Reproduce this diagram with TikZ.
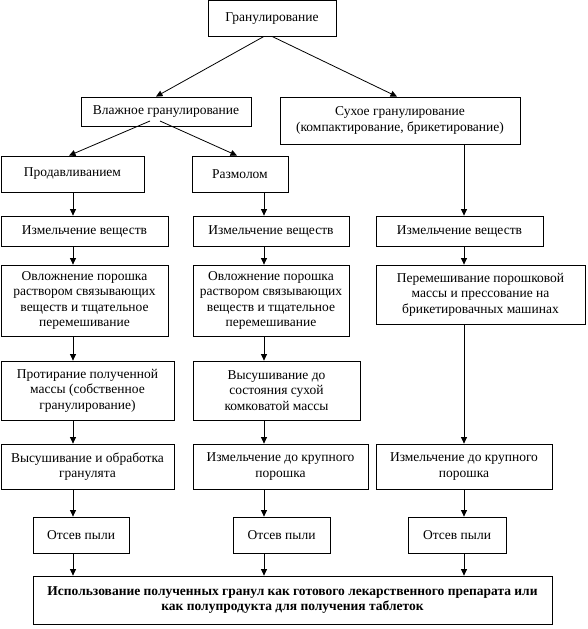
\documentclass[tikz,border=0pt]{standalone}
\usepackage{fontspec}
\setmainfont{Liberation Serif}
\newfontfamily\tnrfont{Liberation Serif}
\usetikzlibrary{arrows.meta}
\begin{document}
\begin{tikzpicture}[x=1pt,y=-1pt,
  bx/.style={draw, line width=0.8pt, inner sep=0pt, align=center,
    font=\tnrfont\fontsize{13.5}{15.5}\selectfont},
  arr/.style={line width=0.8pt, -{Triangle[length=6.5pt,width=6pt]}}]
\useasboundingbox (0,0) rectangle (587,629);
% row 0-1
\node[bx, minimum width=128pt, minimum height=35.5pt] (G) at (272,18.25) {Гранулирование};
\node[bx, minimum width=170pt, minimum height=29pt] (W) at (166,111.5) {Влажное гранулирование};
\node[bx, minimum width=240pt, minimum height=47pt] (D) at (400,120.5) {Сухое гранулирование\\(компактирование, брикетирование)};
% row 2
\node[bx, minimum width=143pt, minimum height=36pt] (P) at (72.5,174) {Продавливанием};
\node[bx, minimum width=96pt, minimum height=36pt] (R) at (240,174) {Размолом};
% row 3
\node[bx, minimum width=167pt, minimum height=30pt] (I1) at (84.5,231) {Измельчение веществ};
\node[bx, minimum width=156pt, minimum height=30pt] (I2) at (271,231) {Измельчение веществ};
\node[bx, minimum width=167pt, minimum height=30pt] (I3) at (459.5,231) {Измельчение веществ};
% row 4
\node[bx, minimum width=167pt, minimum height=71pt] (O1) at (84.5,300.5) {Овложнение порошка\\раствором связывающих\\веществ и тщательное\\перемешивание};
\node[bx, minimum width=156pt, minimum height=71pt] (O2) at (271,300.5) {Овложнение порошка\\раствором связывающих\\веществ и тщательное\\перемешивание};
\node[bx, minimum width=209pt, minimum height=59pt] (M3) at (480.5,294.5) {Перемешивание порошковой\\массы и прессование на\\брикетировачных машинах};
% row 5
\node[bx, minimum width=173pt, minimum height=59pt] (T1) at (87.5,390.5) {Протирание полученной\\массы (собственное\\гранулирование)};
\node[bx, minimum width=167pt, minimum height=59pt] (V2) at (276.5,390.5) {Высушивание до\\состояния сухой\\комковатой массы};
% row 6
\node[bx, minimum width=173pt, minimum height=45pt] (S1) at (87.5,466.5) {Высушивание и обработка\\гранулята};
\node[bx, minimum width=175pt, minimum height=45pt] (K2) at (280.5,466.5) {Измельчение до крупного\\порошка};
\node[bx, minimum width=176pt, minimum height=45pt] (K3) at (464,466.5) {Измельчение до крупного\\порошка};
% row 7
\node[bx, minimum width=96pt, minimum height=36pt] (F1) at (81,535) {Отсев пыли};
\node[bx, minimum width=97pt, minimum height=36pt] (F2) at (281.5,535) {Отсев пыли};
\node[bx, minimum width=98pt, minimum height=36pt] (F3) at (457,535) {Отсев пыли};
% final
\node[bx, minimum width=519pt, minimum height=48pt, font=\tnrfont\fontsize{13.5}{15.5}\selectfont\bfseries] (E) at (292.5,600) {Использование полученных гранул как готового лекарственного препарата или\\как полупродукта для получения таблеток};
% helper coordinates
\coordinate (cL) at (73,0);
\coordinate (cM) at (264,0);
\coordinate (cR) at (464,0);
\coordinate (gA) at (264,0);
\coordinate (gB) at (272,0);
\coordinate (tW) at (156,0);
\coordinate (tD) at (397,0);
\coordinate (w1) at (150,121);
\coordinate (w2) at (160,121);
\coordinate (tP) at (69,0);
\coordinate (tR) at (237,0);
% diagonal connectors
\draw[arr] (G.south -| gA) -- (W.north -| tW);
\draw[arr] (G.south -| gB) -- (D.north -| tD);
\draw[arr] (w1) -- (P.north -| tP);
\draw[arr] (w2) -- (R.north -| tR);
% left column
\draw[arr] (P.south -| cL) -- (I1.north -| cL);
\draw[arr] (I1.south -| cL) -- (O1.north -| cL);
\draw[arr] (O1.south -| cL) -- (T1.north -| cL);
\draw[arr] (T1.south -| cL) -- (S1.north -| cL);
\draw[arr] (S1.south -| cL) -- (F1.north -| cL);
\draw[arr] (F1.south -| cL) -- (E.north -| cL);
% middle column
\draw[arr] (R.south -| cM) -- (I2.north -| cM);
\draw[arr] (I2.south -| cM) -- (O2.north -| cM);
\draw[arr] (O2.south -| cM) -- (V2.north -| cM);
\draw[arr] (V2.south -| cM) -- (K2.north -| cM);
\draw[arr] (K2.south -| cM) -- (F2.north -| cM);
\draw[arr] (F2.south -| cM) -- (E.north -| cM);
% right column
\draw[arr] (D.south -| cR) -- (I3.north -| cR);
\draw[arr] (I3.south -| cR) -- (M3.north -| cR);
\draw[arr] (M3.south -| cR) -- (K3.north -| cR);
\draw[arr] (K3.south -| cR) -- (F3.north -| cR);
\draw[arr] (F3.south -| cR) -- (E.north -| cR);
\end{tikzpicture}
\end{document}
